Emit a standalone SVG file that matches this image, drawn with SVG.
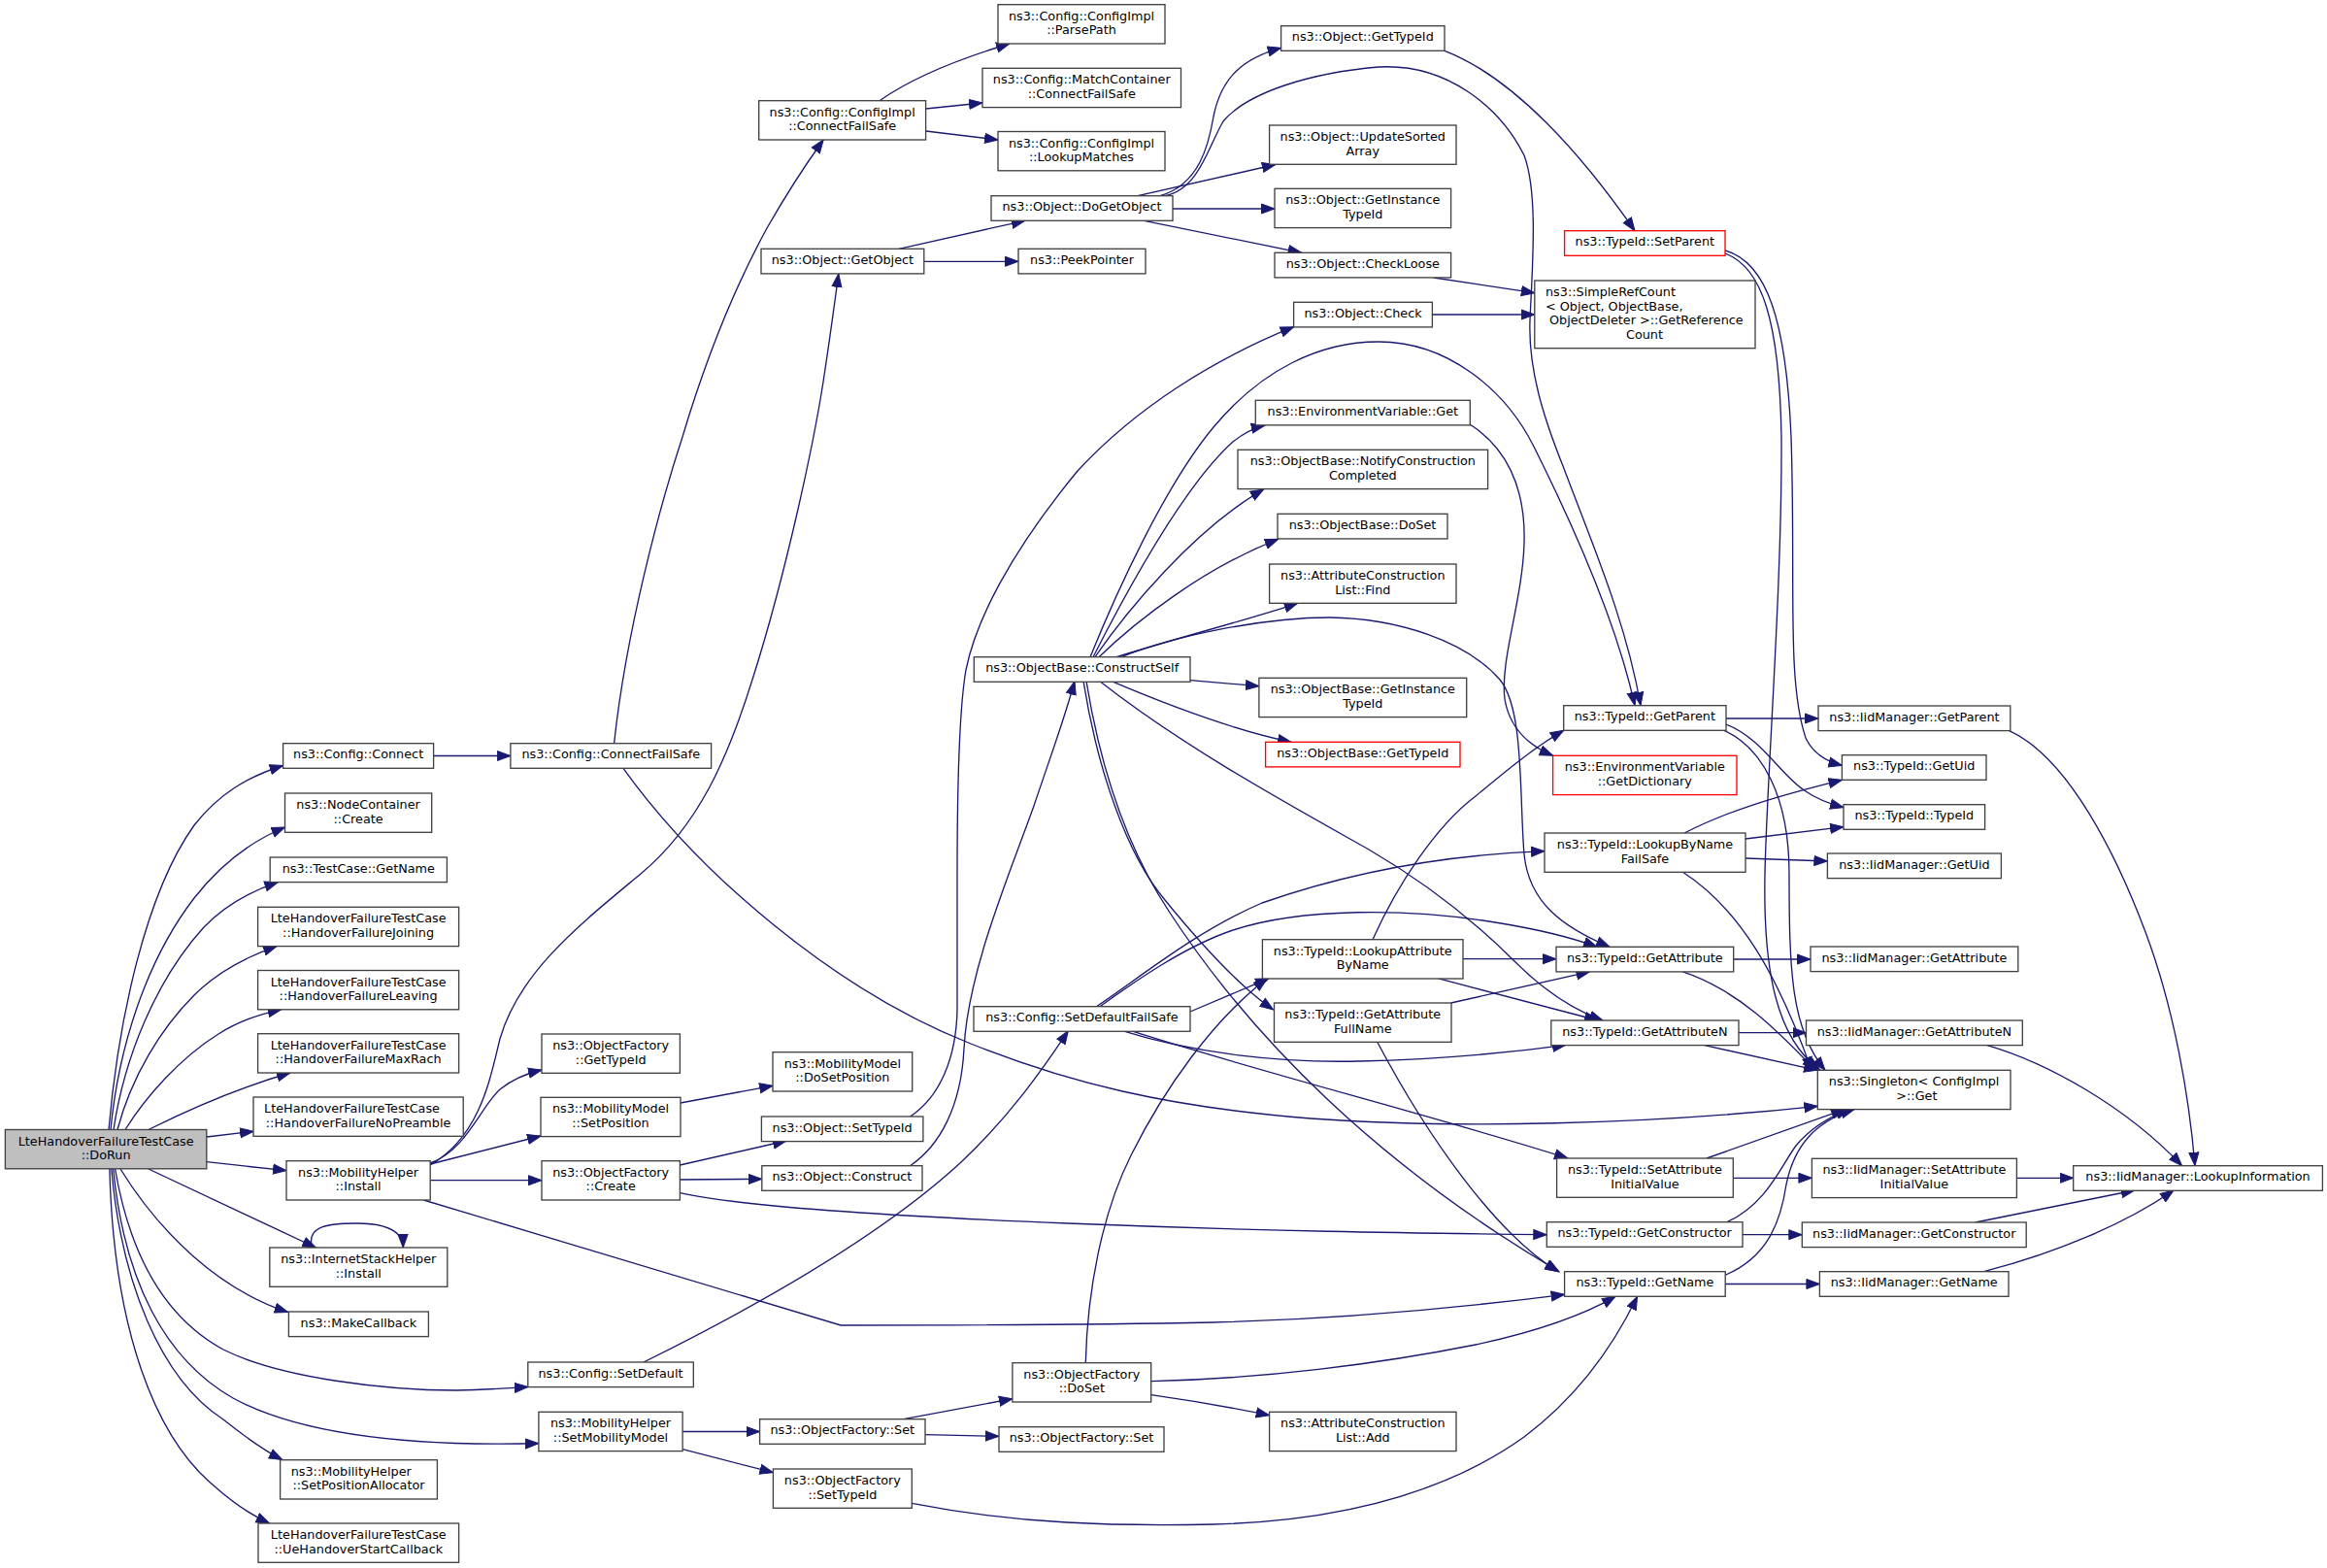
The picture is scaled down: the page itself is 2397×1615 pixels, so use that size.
<svg xmlns="http://www.w3.org/2000/svg" width="2397" height="1615" viewBox="0 0 2397 1615">
<defs>
<style>
.n rect{fill:#ffffff;stroke:#404040;stroke-width:1.33}
.n.r rect{stroke:#ff0000}
.n.g rect{fill:#bfbfbf}
text{font-family:"DejaVu Sans","Liberation Sans",sans-serif;font-size:12.8px;fill:#000000;text-anchor:middle}
text.l{text-anchor:start}
#edges path{fill:none;stroke:#191970;stroke-width:1.33;marker-end:url(#ah)}
</style>
<marker id="ah" markerUnits="userSpaceOnUse" markerWidth="15" markerHeight="12" viewBox="0 0 15 12" refX="14" refY="6" orient="auto"><path d="M0.5,1 L14,6 L0.5,11 z" fill="#191970" stroke="#191970" stroke-width="1"/></marker>
</defs>
<rect width="2397" height="1615" fill="#ffffff"/>
<g id="edges">
<path d="M112,1163.5 C122,1050 150,920 200,850 C225,818 255,800 291.6,788.5"/>
<path d="M114,1163.5 C122,1080 150,990 200,925 C225,893 255,868 293.5,852"/>
<path d="M117,1163.5 C128,1090 160,1010 210,955 C232,932 258,918 286.3,908.6"/>
<path d="M121,1163.5 C135,1110 165,1060 200,1025 C225,1000 255,985 285,974.6"/>
<path d="M129,1163.5 C150,1130 185,1090 225,1065 C245,1052 265,1045 289.7,1039.8"/>
<path d="M153,1163.5 C190,1145 240,1122 299,1105"/>
<path d="M212.8,1171 L261,1165.3"/>
<path d="M212.8,1196.7 L295,1205.7"/>
<path d="M153,1204 L325.3,1285"/>
<path d="M124,1204 C165,1270 225,1328 296.6,1351.5"/>
<path d="M118.6,1204 C135,1300 175,1360 230,1390 C290,1420 400,1432 470,1432 C500,1431.5 520,1430 543.8,1428.5"/>
<path d="M116.7,1204 C128,1320 170,1400 240,1440 C310,1478 420,1490 554.9,1486.7"/>
<path d="M114.8,1204 C125,1320 165,1420 230,1462 C250,1478 270,1493 290.9,1503.5"/>
<path d="M112.9,1204 C117,1370 160,1480 220,1530 C240,1548 258,1560 277.5,1569"/>
<path d="M446.6,778.5 L525.9,778.5"/>
<path d="M632.6,765.7 C645,650 680,520 703,450 C730,360 760,290 790,235 C810,200 828,172 848.2,144"/>
<path d="M642,791.3 C720,900 860,1020 1000,1075 C1100,1115 1200,1140 1350,1152 C1500,1163 1700,1158 1872.3,1139.3"/>
<path d="M906,103.7 C940,80 990,60 1040,45"/>
<path d="M953.6,112 L1012,106"/>
<path d="M953.6,135 L1028,144"/>
<path d="M443.2,1200 C495,1170 505,1110 515,1070 C535,1000 600,950 660,900 C720,850 750,780 775,700 C810,590 840,450 850,380 C856,340 860,310 863.8,282"/>
<path d="M443.2,1198 C480,1185 495,1140 515,1122 C530,1110 545,1105 558,1102"/>
<path d="M443.2,1199 L557,1170"/>
<path d="M443.2,1215.7 L558,1215.7"/>
<path d="M436.3,1236 L866,1365 C1000,1365 1150,1364 1250,1362 C1400,1358 1520,1345 1611.6,1333.3"/>
<path d="M321.5,1285 C315,1262 340,1260 367,1260 C395,1260 415,1266 415.2,1285"/>
<path d="M926,256.3 L1055.8,227.3"/>
<path d="M951.8,269.3 L1049,269.3"/>
<path d="M1195,201.7 C1235,190 1245,150 1250,120 C1258,80 1280,60 1319.6,49.3"/>
<path d="M1200,201.7 C1235,195 1245,150 1260,125 C1285,95 1350,75 1420,69 C1490,65 1545,110 1570,160 C1585,200 1578,280 1576,330 C1574,380 1590,430 1610,480 C1640,560 1675,640 1690,726.7"/>
<path d="M1172,201.7 L1313.8,169.5"/>
<path d="M1208,215 L1313,215"/>
<path d="M1178.6,227.3 L1340.6,260.3"/>
<path d="M1488,52.3 C1560,80 1630,160 1684,237.7"/>
<path d="M1476.8,286 L1580.8,301.7"/>
<path d="M1475.4,324 L1580.8,324"/>
<path d="M1777,258 C1820,270 1840,330 1845,450 C1850,600 1840,700 1860,760 C1867,775 1880,784 1897.4,788.3"/>
<path d="M1777,261 C1815,275 1833,330 1835,450 C1836,600 1820,800 1818,900 C1816,1000 1830,1070 1875,1102.3"/>
<path d="M1778,740 L1873,740"/>
<path d="M1778,746 C1815,760 1835,800 1860,815 C1870,822 1885,828 1899,831.7"/>
<path d="M1776,752.3 C1815,770 1843,820 1843,900 C1843,1000 1845,1060 1880,1102.3"/>
<path d="M1123,676.7 C1150,610 1200,500 1250,440 C1300,380 1360,352 1420,352 C1490,352 1550,400 1580,460 C1620,540 1665,640 1684,726.7"/>
<path d="M1126,676.7 C1160,610 1220,500 1270,455 C1280,447 1290,441 1302.7,438.3"/>
<path d="M1128,676.7 C1160,630 1230,545 1301.7,504"/>
<path d="M1132,676.7 C1170,640 1240,585 1316.7,555.3"/>
<path d="M1150,676.7 C1220,655 1290,637 1336.7,621.3"/>
<path d="M1155,676.7 C1210,655 1300,636 1370,636 C1440,637 1510,660 1545,700 C1570,730 1565,820 1570,880 C1575,930 1610,955 1658,975.3"/>
<path d="M1226,700.7 L1296.9,706.7"/>
<path d="M1145,701.7 C1200,725 1270,752 1330,764.3"/>
<path d="M1133,701.7 C1220,770 1330,830 1410,875 C1470,910 1520,950 1560,990 C1590,1020 1620,1040 1651,1051"/>
<path d="M1116,701.7 C1130,790 1160,880 1200,927 C1235,970 1275,1015 1311.6,1040"/>
<path d="M1119,701.7 C1135,800 1165,880 1205,940 C1290,1070 1420,1200 1606,1309.7"/>
<path d="M1514,437 C1550,460 1572,500 1570,560 C1568,620 1545,680 1550,720 C1555,750 1575,768 1599.6,778.3"/>
<path d="M937.5,1150 C968,1130 985,1090 986,1040 L986,900 C986,800 988,730 995,690 C1005,640 1040,570 1110,485 C1170,420 1250,370 1332.6,336.7"/>
<path d="M937.5,1200.7 C968,1180 990,1140 993,1080 C997,1000 1040,900 1065,830 C1080,785 1095,745 1107,701.7"/>
<path d="M663,1403 C760,1355 900,1280 990,1197 C1040,1150 1075,1100 1100.4,1061.7"/>
<path d="M1129.5,1036.7 C1170,1010 1230,960 1300,930 C1400,895 1500,880 1591,876.7"/>
<path d="M1133,1036.7 C1170,1010 1220,975 1270,958 C1340,935 1450,935 1540,950 C1590,958 1620,966 1645,975.3"/>
<path d="M1226,1042 L1307,1007.7"/>
<path d="M1156,1061.7 C1230,1085 1320,1095 1400,1093 C1480,1091 1550,1085 1613,1076.3"/>
<path d="M1165,1061.7 C1300,1105 1480,1150 1615,1193"/>
<path d="M1507,987.7 L1603,987.7"/>
<path d="M1481,1007.7 L1646,1051"/>
<path d="M1414,967.7 C1440,910 1480,850 1520,820 C1550,795 1580,770 1610.7,752.3"/>
<path d="M1494.6,1033 L1637.5,1000.9"/>
<path d="M1418.75,1073.3 C1470,1170 1540,1270 1605,1309.7"/>
<path d="M1785.7,988 L1865,988"/>
<path d="M1733.5,1000.9 C1790,1020 1830,1060 1870,1102.3"/>
<path d="M1791,1063.7 L1860.5,1063.7"/>
<path d="M1755.8,1076.6 L1872,1102.3"/>
<path d="M1735,858 C1780,835 1830,820 1897.4,803.3"/>
<path d="M1798,864 L1899,851.7"/>
<path d="M1798,884 L1882.4,887"/>
<path d="M1733.5,898.3 C1790,935 1830,1000 1866,1102.3"/>
<path d="M1785.3,1213.3 L1866.4,1213.3"/>
<path d="M1758,1193 L1900,1142.6"/>
<path d="M1795,1271.7 L1856.3,1271.7"/>
<path d="M1779,1258.7 C1820,1240 1835,1200 1850,1180 C1865,1162 1885,1150 1905,1142.6"/>
<path d="M1777.2,1322.5 L1874.4,1322.5"/>
<path d="M1777,1313.3 C1820,1295 1834,1260 1840,1220 C1848,1180 1870,1155 1910,1142.6"/>
<path d="M2069.7,752.6 C2130,780 2180,880 2210,960 C2240,1040 2255,1130 2261,1200.7"/>
<path d="M2047,1076.6 C2110,1095 2190,1140 2247.6,1200.7"/>
<path d="M2077.4,1213.3 L2135.7,1213.3"/>
<path d="M2034.9,1259 L2198.8,1226"/>
<path d="M2043.6,1309.7 C2120,1290 2190,1260 2239,1226"/>
<path d="M700.4,1200 L810,1175"/>
<path d="M700.4,1215 L784.8,1214.3"/>
<path d="M700.4,1228.7 C760,1242 900,1252 1100,1260 C1300,1268 1450,1270 1593.3,1271.7"/>
<path d="M701,1136 L796,1118.3"/>
<path d="M703.1,1474.5 L782.6,1474.5"/>
<path d="M703.1,1492.7 L796.4,1516.7"/>
<path d="M930.8,1461.7 L1042.9,1440.7"/>
<path d="M953,1477.7 L1029,1479.3"/>
<path d="M1118.3,1403.7 C1120,1330 1135,1250 1165,1190 C1200,1120 1250,1050 1305,1008"/>
<path d="M1185.7,1422.7 C1300,1420 1420,1405 1520,1385 C1580,1372 1630,1355 1664,1335.3"/>
<path d="M1185.7,1436.7 C1230,1443 1270,1450 1307.6,1457.7"/>
<path d="M939.3,1548.3 C1050,1570 1150,1572 1250,1570 C1400,1566 1500,1530 1570,1480 C1630,1435 1665,1380 1686.6,1335.3"/>
</g>
<g id="n0" class="n g"><rect x="5.4" y="1163.5" width="207.4" height="40.3"/><text x="109.1" y="1179.5">LteHandoverFailureTestCase</text><text x="109.1" y="1194.2">::DoRun</text></g>
<g id="n1" class="n"><rect x="291.6" y="765.7" width="155" height="25.6"/><text x="369.1" y="781.2">ns3::Config::Connect</text></g>
<g id="n2" class="n"><rect x="293.5" y="817" width="151.2" height="40.3"/><text x="369.1" y="833">ns3::NodeContainer</text><text x="369.1" y="847.7">::Create</text></g>
<g id="n3" class="n"><rect x="278.2" y="883" width="182.2" height="25.6"/><text x="369.3" y="898.5">ns3::TestCase::GetName</text></g>
<g id="n4" class="n"><rect x="265.6" y="934.3" width="207" height="40.3"/><text x="369.1" y="950.3">LteHandoverFailureTestCase</text><text x="369.1" y="965">::HandoverFailureJoining</text></g>
<g id="n5" class="n"><rect x="265.6" y="999.5" width="207" height="40.3"/><text x="369.1" y="1015.5">LteHandoverFailureTestCase</text><text x="369.1" y="1030.2">::HandoverFailureLeaving</text></g>
<g id="n6" class="n"><rect x="265.6" y="1064.7" width="207" height="40.3"/><text x="369.1" y="1080.7">LteHandoverFailureTestCase</text><text x="369.1" y="1095.4">::HandoverFailureMaxRach</text></g>
<g id="n7" class="n"><rect x="261" y="1130" width="216.2" height="40.3"/><text class="l" x="272.1" y="1146">LteHandoverFailureTestCase</text><text x="369.1" y="1160.7">::HandoverFailureNoPreamble</text></g>
<g id="n8" class="n"><rect x="295" y="1195.7" width="148.2" height="40.3"/><text x="369.1" y="1211.7">ns3::MobilityHelper</text><text x="369.1" y="1226.4">::Install</text></g>
<g id="n9" class="n"><rect x="277.8" y="1285" width="183" height="40.3"/><text x="369.3" y="1301">ns3::InternetStackHelper</text><text x="369.3" y="1315.7">::Install</text></g>
<g id="n10" class="n"><rect x="297.4" y="1351" width="144" height="25.6"/><text x="369.4" y="1366.5">ns3::MakeCallback</text></g>
<g id="n11" class="n"><rect x="288.6" y="1503.7" width="161.8" height="40.3"/><text class="l" x="299.7" y="1519.7">ns3::MobilityHelper</text><text x="369.5" y="1534.4">::SetPositionAllocator</text></g>
<g id="n12" class="n"><rect x="266" y="1569" width="206.6" height="40.3"/><text x="369.3" y="1585">LteHandoverFailureTestCase</text><text x="369.3" y="1599.7">::UeHandoverStartCallback</text></g>
<g id="n13" class="n"><rect x="525.9" y="765.7" width="206.7" height="25.6"/><text x="629.25" y="781.2">ns3::Config::ConnectFailSafe</text></g>
<g id="n14" class="n"><rect x="558" y="1065" width="142.4" height="40.3"/><text x="629.2" y="1081">ns3::ObjectFactory</text><text x="629.2" y="1095.7">::GetTypeId</text></g>
<g id="n15" class="n"><rect x="557" y="1130.3" width="144" height="40.3"/><text x="629" y="1146.3">ns3::MobilityModel</text><text x="629" y="1161">::SetPosition</text></g>
<g id="n16" class="n"><rect x="558" y="1195.7" width="142.4" height="40.3"/><text x="629.2" y="1211.7">ns3::ObjectFactory</text><text x="629.2" y="1226.4">::Create</text></g>
<g id="n17" class="n"><rect x="543.8" y="1403" width="170.5" height="25.6"/><text x="629" y="1418.5">ns3::Config::SetDefault</text></g>
<g id="n18" class="n"><rect x="554.9" y="1454.3" width="148.2" height="40.3"/><text x="629" y="1470.3">ns3::MobilityHelper</text><text x="629" y="1485">::SetMobilityModel</text></g>
<g id="n19" class="n"><rect x="781.7" y="103.7" width="171.9" height="40.3"/><text x="867.65" y="119.7">ns3::Config::ConfigImpl</text><text x="867.65" y="134.4">::ConnectFailSafe</text></g>
<g id="n20" class="n"><rect x="784" y="256.3" width="167.8" height="25.6"/><text x="867.9" y="271.8">ns3::Object::GetObject</text></g>
<g id="n21" class="n"><rect x="796" y="1083.7" width="143.7" height="40.3"/><text x="867.85" y="1099.7">ns3::MobilityModel</text><text x="867.85" y="1114.4">::DoSetPosition</text></g>
<g id="n22" class="n"><rect x="784.4" y="1150" width="166.5" height="25.6"/><text x="867.65" y="1165.5">ns3::Object::SetTypeId</text></g>
<g id="n23" class="n"><rect x="784.8" y="1200.7" width="165.2" height="25.6"/><text x="867.4" y="1216.2">ns3::Object::Construct</text></g>
<g id="n24" class="n"><rect x="782.6" y="1461.7" width="170.4" height="25.6"/><text x="867.8" y="1477.2">ns3::ObjectFactory::Set</text></g>
<g id="n25" class="n"><rect x="796.4" y="1513" width="142.9" height="40.3"/><text x="867.85" y="1529">ns3::ObjectFactory</text><text x="867.85" y="1543.7">::SetTypeId</text></g>
<g id="n26" class="n"><rect x="1028" y="4.7" width="172" height="40.3"/><text x="1114" y="20.7">ns3::Config::ConfigImpl</text><text x="1114" y="35.4">::ParsePath</text></g>
<g id="n27" class="n"><rect x="1012" y="70.3" width="204.5" height="40.3"/><text x="1114.25" y="86.3">ns3::Config::MatchContainer</text><text x="1114.25" y="101">::ConnectFailSafe</text></g>
<g id="n28" class="n"><rect x="1028" y="135.5" width="172" height="40.3"/><text x="1114" y="151.5">ns3::Config::ConfigImpl</text><text x="1114" y="166.2">::LookupMatches</text></g>
<g id="n29" class="n"><rect x="1021" y="201.7" width="187" height="25.6"/><text x="1114.5" y="217.2">ns3::Object::DoGetObject</text></g>
<g id="n30" class="n"><rect x="1049" y="256.3" width="131" height="25.6"/><text x="1114.5" y="271.8">ns3::PeekPointer</text></g>
<g id="n31" class="n"><rect x="1003.3" y="676.7" width="222.7" height="25.6"/><text x="1114.65" y="692.2">ns3::ObjectBase::ConstructSelf</text></g>
<g id="n32" class="n"><rect x="1003" y="1036.7" width="223" height="25.6"/><text x="1114.5" y="1052.2">ns3::Config::SetDefaultFailSafe</text></g>
<g id="n33" class="n"><rect x="1042.9" y="1403.7" width="142.8" height="40.3"/><text x="1114.3" y="1419.7">ns3::ObjectFactory</text><text x="1114.3" y="1434.4">::DoSet</text></g>
<g id="n34" class="n"><rect x="1029" y="1469.7" width="170" height="25.6"/><text x="1114" y="1485.2">ns3::ObjectFactory::Set</text></g>
<g id="n35" class="n"><rect x="1319.6" y="26.7" width="168.4" height="25.6"/><text x="1403.8" y="42.2">ns3::Object::GetTypeId</text></g>
<g id="n36" class="n"><rect x="1307.6" y="129" width="192.4" height="40.3"/><text x="1403.8" y="145">ns3::Object::UpdateSorted</text><text x="1403.8" y="159.7">Array</text></g>
<g id="n37" class="n"><rect x="1313" y="194.3" width="181.6" height="40.3"/><text x="1403.8" y="210.3">ns3::Object::GetInstance</text><text x="1403.8" y="225">TypeId</text></g>
<g id="n38" class="n"><rect x="1313" y="260.3" width="181.6" height="25.6"/><text x="1403.8" y="275.8">ns3::Object::CheckLoose</text></g>
<g id="n39" class="n"><rect x="1332.6" y="311.3" width="142.8" height="25.6"/><text x="1404" y="326.8">ns3::Object::Check</text></g>
<g id="n40" class="n"><rect x="1293.3" y="412.3" width="221" height="25.6"/><text x="1403.8" y="427.8">ns3::EnvironmentVariable::Get</text></g>
<g id="n41" class="n"><rect x="1275" y="463.3" width="257.6" height="40.3"/><text x="1403.8" y="479.3">ns3::ObjectBase::NotifyConstruction</text><text x="1403.8" y="494">Completed</text></g>
<g id="n42" class="n"><rect x="1316" y="529.3" width="175" height="25.6"/><text x="1403.5" y="544.8">ns3::ObjectBase::DoSet</text></g>
<g id="n43" class="n"><rect x="1307.6" y="581" width="192.4" height="40.3"/><text x="1403.8" y="597">ns3::AttributeConstruction</text><text x="1403.8" y="611.7">List::Find</text></g>
<g id="n44" class="n"><rect x="1296.9" y="698.3" width="213.8" height="40.3"/><text x="1403.8" y="714.3">ns3::ObjectBase::GetInstance</text><text x="1403.8" y="729">TypeId</text></g>
<g id="n45" class="n r"><rect x="1303.6" y="764.3" width="200.4" height="25.6"/><text x="1403.8" y="779.8">ns3::ObjectBase::GetTypeId</text></g>
<g id="n46" class="n"><rect x="1300.4" y="967.7" width="206.6" height="40.3"/><text x="1403.7" y="983.7">ns3::TypeId::LookupAttribute</text><text x="1403.7" y="998.4">ByName</text></g>
<g id="n47" class="n"><rect x="1312.5" y="1033" width="182.5" height="40.3"/><text x="1403.75" y="1049">ns3::TypeId::GetAttribute</text><text x="1403.75" y="1063.7">FullName</text></g>
<g id="n48" class="n"><rect x="1307.6" y="1454.3" width="192.4" height="40.3"/><text x="1403.8" y="1470.3">ns3::AttributeConstruction</text><text x="1403.8" y="1485">List::Add</text></g>
<g id="n49" class="n r"><rect x="1611.6" y="237.7" width="165.4" height="25.6"/><text x="1694.3" y="253.2">ns3::TypeId::SetParent</text></g>
<g id="n50" class="n"><rect x="1580.8" y="289" width="227.2" height="69.7"/><text class="l" x="1592" y="305">ns3::SimpleRefCount</text><text class="l" x="1592" y="319.7">&lt; Object, ObjectBase,</text><text class="l" x="1596" y="334.4">ObjectDeleter &gt;::GetReference</text><text x="1694" y="349.1">Count</text></g>
<g id="n51" class="n"><rect x="1610.7" y="726.7" width="167.3" height="25.6"/><text x="1694.35" y="742.2">ns3::TypeId::GetParent</text></g>
<g id="n52" class="n r"><rect x="1599.6" y="778.3" width="189.4" height="40.3"/><text x="1694.3" y="794.3">ns3::EnvironmentVariable</text><text x="1694.3" y="809">::GetDictionary</text></g>
<g id="n53" class="n"><rect x="1591" y="858" width="207" height="40.3"/><text x="1694.5" y="874">ns3::TypeId::LookupByName</text><text x="1694.5" y="888.7">FailSafe</text></g>
<g id="n54" class="n"><rect x="1603" y="975.3" width="182.7" height="25.6"/><text x="1694.35" y="990.8">ns3::TypeId::GetAttribute</text></g>
<g id="n55" class="n"><rect x="1597.8" y="1051" width="193.2" height="25.6"/><text x="1694.4" y="1066.5">ns3::TypeId::GetAttributeN</text></g>
<g id="n56" class="n"><rect x="1603.6" y="1193" width="181.7" height="40.3"/><text x="1694.45" y="1209">ns3::TypeId::SetAttribute</text><text x="1694.45" y="1223.7">InitialValue</text></g>
<g id="n57" class="n"><rect x="1593.3" y="1258.7" width="201.7" height="25.6"/><text x="1694.15" y="1274.2">ns3::TypeId::GetConstructor</text></g>
<g id="n58" class="n"><rect x="1611.6" y="1309.7" width="165.6" height="25.6"/><text x="1694.4" y="1325.2">ns3::TypeId::GetName</text></g>
<g id="n59" class="n"><rect x="1873" y="727" width="197.8" height="25.6"/><text x="1971.9" y="742.5">ns3::IidManager::GetParent</text></g>
<g id="n60" class="n"><rect x="1897.4" y="777.7" width="148.6" height="25.6"/><text x="1971.7" y="793.2">ns3::TypeId::GetUid</text></g>
<g id="n61" class="n"><rect x="1899" y="828.7" width="145.6" height="25.6"/><text x="1971.8" y="844.2">ns3::TypeId::TypeId</text></g>
<g id="n62" class="n"><rect x="1882.4" y="879" width="179" height="25.6"/><text x="1971.9" y="894.5">ns3::IidManager::GetUid</text></g>
<g id="n63" class="n"><rect x="1865" y="975" width="213.8" height="25.6"/><text x="1971.9" y="990.5">ns3::IidManager::GetAttribute</text></g>
<g id="n64" class="n"><rect x="1860.5" y="1051" width="222.8" height="25.6"/><text x="1971.9" y="1066.5">ns3::IidManager::GetAttributeN</text></g>
<g id="n65" class="n"><rect x="1872.3" y="1102.3" width="198.7" height="40.3"/><text x="1971.6" y="1118.3">ns3::Singleton&lt; ConfigImpl</text><text x="1974.4" y="1133">&gt;::Get</text></g>
<g id="n66" class="n"><rect x="1866.4" y="1193.3" width="211" height="40.3"/><text x="1971.9" y="1209.3">ns3::IidManager::SetAttribute</text><text x="1971.9" y="1224">InitialValue</text></g>
<g id="n67" class="n"><rect x="1856.3" y="1259" width="230.9" height="25.6"/><text x="1971.75" y="1274.5">ns3::IidManager::GetConstructor</text></g>
<g id="n68" class="n"><rect x="1874.4" y="1309.7" width="194.6" height="25.6"/><text x="1971.7" y="1325.2">ns3::IidManager::GetName</text></g>
<g id="n69" class="n"><rect x="2135.7" y="1200.7" width="256.7" height="25.6"/><text x="2264.05" y="1216.2">ns3::IidManager::LookupInformation</text></g>
</svg>
